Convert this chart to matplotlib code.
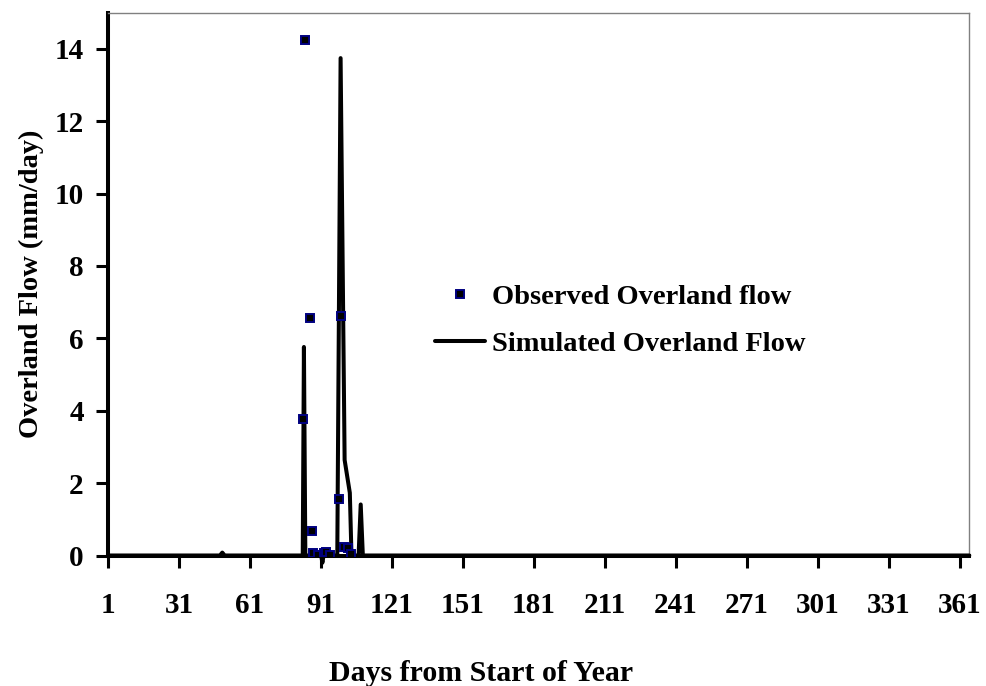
import matplotlib.pyplot as plt

# observed overland flow (day of year, mm/day)
obs_day = [83.5, 84.1, 86.2, 87.1, 87.8, 89.9, 92.3, 93.0, 94.8, 98.8, 99.6, 100.6, 102.3, 103.7]
obs_flow = [3.76, 14.23, 6.56, 0.68, 0.07, 0.02, 0.07, 0.1, 0.02, 1.56, 6.62, 0.24, 0.21, 0.04]

# simulated overland flow
sim_day = [1, 48.3, 49.3, 50.3, 83.3, 83.8, 84.4, 91.1, 91.6, 92.1, 97.9, 99.3,
           101.0, 103.2, 103.9, 106.9, 107.8, 108.7, 365]
sim_flow = [0, 0, 0.08, 0, 0, 5.76, 0, 0, -0.2, 0, 0, 13.74,
            2.64, 1.73, 0, 0, 1.41, 0, 0]

xticks = list(range(1, 362, 30))
yticks = list(range(0, 15, 2))

plt.rcParams['font.family'] = ['Liberation Serif', 'DejaVu Serif']
plt.rcParams['font.weight'] = 'bold'

fig = plt.figure(figsize=(9.87, 6.86), dpi=100)
ax = fig.add_axes([108 / 987, 1 - 555.5 / 686, 861.3 / 987, 543 / 686])

ax.plot(sim_day, sim_flow, color='black', lw=2.9, solid_joinstyle='round',
        solid_capstyle='round', clip_on=False, label='Simulated Overland Flow', zorder=3)
ax.plot(obs_day, obs_flow, ls='none', marker='s', ms=5.8, mfc='black',
        mec='#000080', mew=1.4, label='Observed Overland flow', zorder=4)

ax.set_xlim(1, 365)
ax.set_ylim(0, 15)
ax.set_xticks(xticks)
ax.set_yticks(yticks)
ax.tick_params(axis='both', labelsize=21, width=2.2, length=8.5, direction='out')
ax.tick_params(axis='x', pad=18)
ax.tick_params(axis='y', pad=9)
for lab in ax.get_xticklabels() + ax.get_yticklabels():
    lab.set_fontweight('bold')

for s in ['left', 'bottom']:
    ax.spines[s].set_linewidth(2.9)
for s in ['top', 'right']:
    ax.spines[s].set_linewidth(1.0)
    ax.spines[s].set_color('#808080')

ax.set_xlabel('Days from Start of Year', fontsize=21.5, fontweight='bold')
ax.set_ylabel('Overland Flow (mm/day)', fontsize=20.5, fontweight='bold')
ax.xaxis.set_label_coords(0.433, -0.193)
ax.yaxis.set_label_coords(-0.0743, 0.5)

h, l = ax.get_legend_handles_labels()
ax.legend(h[::-1], l[::-1], loc='upper left', bbox_to_anchor=(435 / 987, 1 - 284 / 686),
          bbox_transform=fig.transFigure, frameon=False, borderpad=0, borderaxespad=0,
          handlelength=1.75, handletextpad=0.25, labelspacing=0.75,
          prop={'weight': 'bold', 'size': 20.5})

fig.savefig('out.png', dpi=100)
